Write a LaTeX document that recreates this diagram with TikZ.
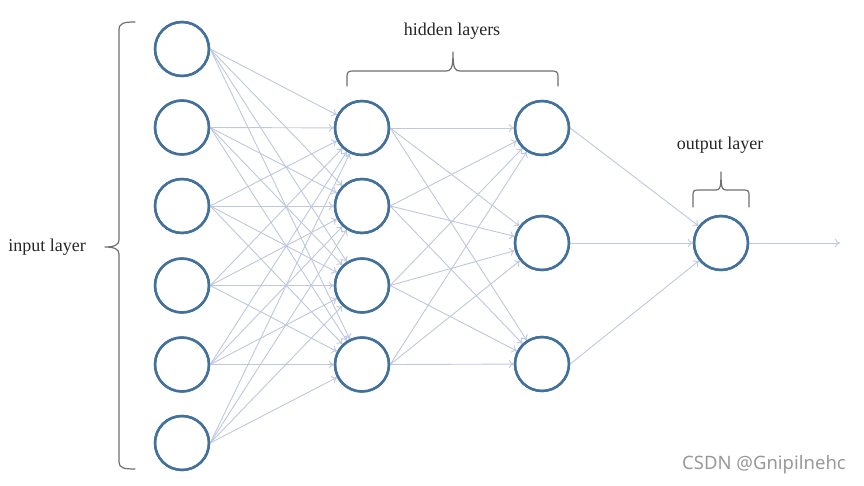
\documentclass[tikz,border=0pt]{standalone}
\usepackage{fontspec}
\setmainfont{Liberation Serif}
\newfontfamily\wmfont{Noto Sans}
\usetikzlibrary{arrows.meta}
\definecolor{nodeblue}{RGB}{65,113,156}
\definecolor{edgecol}{RGB}{192,200,222}
\definecolor{bracecol}{RGB}{112,112,112}
\tikzset{
  neuron/.style={circle, draw=nodeblue, line width=2.4pt, minimum size=54pt, inner sep=0pt, fill=white},
  conn/.style={draw=edgecol, line width=0.9pt, -{To[length=5pt,width=8pt]}},
  bracestyle/.style={draw=bracecol, line width=1.2pt, line cap=round, line join=round},
  lbl/.style={font=\fontsize{18}{21}\selectfont, text=black!85, inner sep=0pt}
}
\begin{document}
\begin{tikzpicture}[x=1pt,y=-1pt]
\useasboundingbox[fill=white] (0,0) rectangle (864,486);
% input layer
\foreach \i/\y in {1/49,2/127.5,3/206,4/285.5,5/364.5,6/443}
  \node[neuron] (i\i) at (182,\y) {};
% hidden layer 1
\foreach \i/\y in {1/128,2/206,3/285.5,4/364.5}
  \node[neuron] (h\i) at (362,\y) {};
% hidden layer 2
\foreach \i/\y in {1/128,2/243,3/364}
  \node[neuron] (g\i) at (542,\y) {};
% output
\node[neuron] (o) at (721,243) {};
\coordinate (out) at (840,243);
% connections
\foreach \a in {1,...,6}
  \foreach \b in {1,...,4}
    \draw[conn] (i\a.east) -- (h\b);
\foreach \a in {1,...,4}
  \foreach \b in {1,...,3}
    \draw[conn] (h\a.east) -- (g\b);
\foreach \a in {1,...,3}
  \draw[conn] (g\a.east) -- (o);
\draw[conn] (o.east) -- (out);
% redraw circle outlines on top of the connectors
\foreach \n in {i1,i2,i3,i4,i5,i6,h1,h2,h3,h4,g1,g2,g3,o}
  \draw[nodeblue, line width=2.4pt] (\n.center) circle (27pt);
% braces
\draw[bracestyle] (135,22) .. controls (124,22) and (119,23) .. (119,30)
  -- (119,240) .. controls (119,245) and (114,247) .. (105,247)
  .. controls (114,247) and (119,249) .. (119,254)
  -- (119,462) .. controls (119,468) and (124,469) .. (135,469);
\draw[bracestyle] (347,86) -- (347,76) .. controls (347,72) and (349,71) .. (353,71)
  -- (446,71) .. controls (451,71) and (453,69) .. (453,52)
  .. controls (453,69) and (455,71) .. (460,71)
  -- (552,71) .. controls (556,71) and (558,72) .. (558,76) -- (558,86);
\draw[bracestyle] (693,207) -- (693,195) .. controls (693,191) and (694,190) .. (698,190)
  -- (716,190) .. controls (720,190) and (721,188) .. (721,172)
  .. controls (721,188) and (722,190) .. (726,190)
  -- (744,190) .. controls (748,190) and (749,191) .. (749,195) -- (749,207);
% labels
\node[lbl] (tin) at (47,247) {input layer};
\node[lbl] (thid) at (452,31) {hidden layers};
\node[lbl] (tout) at (720,145) {output layer};
\node[font=\wmfont\fontsize{18.5}{22}\selectfont, text=black!40, inner sep=0pt] (wm) at (764,465) {CSDN @Gnipilnehc};
\end{tikzpicture}
\end{document}
